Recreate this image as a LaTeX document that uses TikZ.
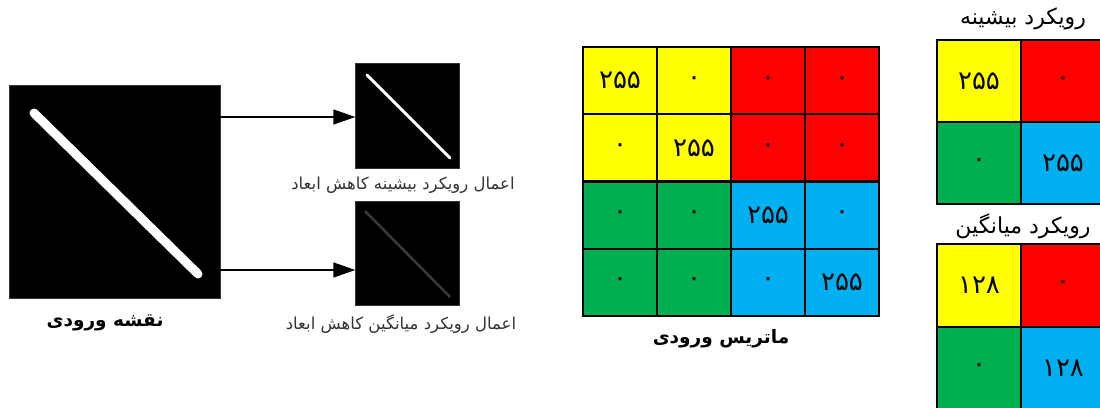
\documentclass[tikz,border=0pt]{standalone}
\usepackage{fontspec}
\setmainfont{DejaVu Sans}
\newfontfamily\arabicfont[Script=Arabic]{DejaVu Sans}
\TeXXeTstate=1
\usetikzlibrary{arrows.meta}
\definecolor{cyel}{HTML}{FFFF00}
\definecolor{cred}{HTML}{FF0000}
\definecolor{cgreen}{HTML}{00B050}
\definecolor{cblue}{HTML}{00B0F0}
\definecolor{capgray}{HTML}{333333}
\definecolor{dimline}{HTML}{3A3A3A}
\tikzset{
  mcell/.style={draw=black, line width=2.2pt, minimum width=74pt, minimum height=67.25pt, inner sep=0pt,
    font=\arabicfont\fontsize{26}{28}\selectfont},
  rcell/.style={draw=black, line width=2.2pt, minimum width=84pt, minimum height=82.5pt, inner sep=0pt,
    font=\arabicfont\fontsize{26}{28}\selectfont},
  imgbox/.style={fill=black, draw=black!80, inner sep=0pt},
  capt/.style={font=\arabicfont\fontsize{16.5}{18}\selectfont, text=capgray, inner sep=0pt},
  boldcap/.style={font=\arabicfont\bfseries\fontsize{18.5}{20}\selectfont, inner sep=0pt},
  ttl/.style={font=\arabicfont\fontsize{22}{24}\selectfont, inner sep=0pt},
  arr/.style={line width=1.4pt, -{Triangle[length=22pt,width=15pt]}}
}
\begin{document}
\begin{tikzpicture}[x=1pt,y=-1pt]
\useasboundingbox (0,0) rectangle (1100,407);
% left part
\node[imgbox, minimum width=211pt, minimum height=213pt] (big) at (114.5,191.5) {};
\draw[white, line width=9pt, line cap=round] (34,113) -- (198,274);
\node[imgbox, minimum width=104pt, minimum height=105pt] (maxi) at (407.5,115.5) {};
\draw[white, line width=3pt, line cap=round] (367,75) -- (450,158);
\node[imgbox, minimum width=104pt, minimum height=104pt] (avgi) at (407.5,253.5) {};
\draw[dimline, line width=2.5pt] (365,211) -- (450,297);
\draw[arr] (big.east |- 0,117) coordinate (a1s) -- (a1s -| maxi.west);
\draw[arr] (big.east |- 0,270) coordinate (a2s) -- (a2s -| avgi.west);
\node[capt] (cmax) at (403,185) {\beginR اعمال رویکرد بیشینه کاهش ابعاد\endR};
\node[capt] (cavg) at (401,324) {\beginR اعمال رویکرد میانگین کاهش ابعاد\endR};
\node[boldcap] (cin) at (105,323) {\beginR نقشه ورودی\endR};
% input matrix
\foreach \r/\c/\cc/\t in {
 1/1/cyel/۲۵۵, 1/2/cyel/۰, 1/3/cred/۰, 1/4/cred/۰,
 2/1/cyel/۰, 2/2/cyel/۲۵۵, 2/3/cred/۰, 2/4/cred/۰,
 3/1/cgreen/۰, 3/2/cgreen/۰, 3/3/cblue/۲۵۵, 3/4/cblue/۰,
 4/1/cgreen/۰, 4/2/cgreen/۰, 4/3/cblue/۰, 4/4/cblue/۲۵۵}
 \node[mcell, fill=\cc] (m\r\c) at ({583+74*(\c-0.5)},{47+67.25*(\r-0.5)}) {\t};
\node[boldcap] (cmat) at (721,339) {\beginR ماتریس ورودی\endR};
% max pooling result
\node[ttl] (tmax) at (1023,19) {\beginR رویکرد بیشینه\endR};
\foreach \r/\c/\cc/\t in {1/1/cyel/۲۵۵, 1/2/cred/۰, 2/1/cgreen/۰, 2/2/cblue/۲۵۵}
 \node[rcell, fill=\cc] (x\r\c) at ({937+84*(\c-0.5)},{40+82*(\r-0.5)}) {\t};
% average pooling result
\node[ttl] (tavg) at (1023,226) {\beginR رویکرد میانگین\endR};
\foreach \r/\c/\cc/\t in {1/1/cyel/۱۲۸, 1/2/cred/۰, 2/1/cgreen/۰, 2/2/cblue/۱۲۸}
 \node[rcell, fill=\cc] (v\r\c) at ({937+84*(\c-0.5)},{244+83*(\r-0.5)}) {\t};
\end{tikzpicture}
\end{document}
